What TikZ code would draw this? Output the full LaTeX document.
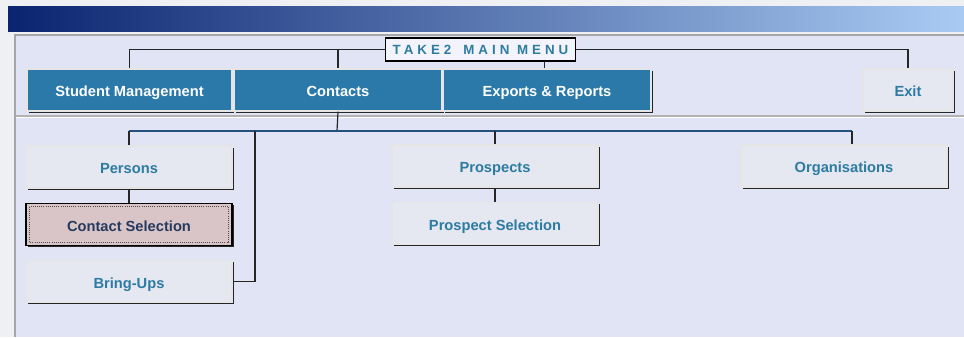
\documentclass[tikz,border=0pt]{standalone}
\usepackage{fontspec}
\setsansfont{Liberation Sans}
\newfontfamily\spacedfont{Liberation Sans}[LetterSpace=30]
\usetikzlibrary{positioning,shadows}
\definecolor{barleft}{HTML}{0B2470}
\definecolor{barmid}{HTML}{5474B2}
\definecolor{barright}{HTML}{A9CBF3}
\definecolor{outer}{HTML}{EFF0F4}
\definecolor{panel}{HTML}{E1E4F5}
\definecolor{btnblue}{HTML}{2A79A9}
\definecolor{btnlight}{HTML}{E5E7F1}
\definecolor{btntext}{HTML}{2D7BA1}
\definecolor{selfill}{HTML}{D9C5C7}
\definecolor{seltext}{HTML}{26395F}
\definecolor{linkblue}{HTML}{24507E}

\begin{document}
\begin{tikzpicture}[x=0.75pt,y=-0.75pt,
    font=\sffamily\bfseries\fontsize{11}{13}\selectfont,
    node distance=43pt,
    btn/.style={minimum width=154.5pt,minimum height=31.5pt,inner sep=0pt,
      text height=11pt,text depth=1pt,
      draw=white!80!gray,line width=0.8pt,
      general shadow={shadow xshift=1.3pt,shadow yshift=-1.3pt,fill=black!85}},
    topbtn/.style={btn,fill=btnblue,text=white},
    subbtn/.style={btn,fill=btnlight,text=btntext},
    selbtn/.style={btn,fill=selfill,text=seltext,draw=black,line width=1.2pt,
      path picture={\draw[densely dotted,black!70,line width=0.6pt]
        ([xshift=2.5pt,yshift=-2.5pt]path picture bounding box.north west) rectangle
        ([xshift=-2.5pt,yshift=2.5pt]path picture bounding box.south east);}},
    menutitle/.style={draw=black,line width=0.8pt,fill=white!60!panel,text=btntext,
      inner sep=0pt,minimum width=143pt,minimum height=17.25pt,
      text height=7.2pt,text depth=0pt,
      font=\spacedfont\bfseries\fontsize{10}{11}\selectfont},
    wire/.style={draw=black!85,line width=0.9pt}]
  \useasboundingbox (0,0) rectangle (964,337);
  \fill[outer] (0,0) rectangle (964,337);
  \shade[left color=barleft,middle color=barmid,right color=barright] (8,6) rectangle (964,31);
  \fill[panel] (14,34) rectangle (964,337);
  \draw[gray!70,line width=0.8pt] (15,337) |- (964,35);
  \draw[gray!60,line width=0.8pt] (16,116) -- (964,116);
  \draw[white,line width=0.8pt] (16,117.5) -- (964,117.5);

  \node[menutitle] (title) at (480.5,49.5) {TAKE2\hspace{9pt}MAIN MENU};
  \node[topbtn,minimum width=153.75pt] (sm) at (129.5,90) {Student Management};
  \node[topbtn,minimum width=156pt] (co) at (338,90) {Contacts};
  \node[topbtn,minimum width=156pt] (ex) at (547,90) {Exports \& Reports};
  \node[subbtn,minimum width=67.5pt] (exit) at (908,90) {Exit};

  \node[subbtn] (pe) at (129,167) {Persons};
  \node[selbtn,below of=pe] (cs) {Contact Selection};
  \node[subbtn,below of=cs] (bu) {Bring-Ups};
  \node[subbtn] (pr) at (495,166) {Prospects};
  \node[subbtn,below of=pr] (ps) {Prospect Selection};
  \node[subbtn] (org) at (844,166) {Organisations};

  \coordinate (hub) at (337,131);
  \coordinate (bend) at (255,131);

  \draw[wire] (sm.north) |- (title.west);
  \draw[wire] (co.north) -- (co.north |- title.west);
  \draw[wire] ([xshift=-2pt]ex.north) -- ([xshift=-2pt]ex.north |- title.south);
  \draw[wire] (title.east) -| (exit.north);
  \draw[wire] (co.south) -- (hub);
  \draw[wire,draw=linkblue] (pe.north |- hub) -- ([xshift=6pt]org.north |- hub);
  \draw[wire] (pe.north) -- (pe.north |- hub);
  \draw[wire] (pr.north) -- (pr.north |- hub);
  \draw[wire] ([xshift=6pt]org.north) -- ([xshift=6pt]org.north |- hub);
  \draw[wire] (pe.south) -- (cs.north);
  \draw[wire] (pr.south) -- (ps.north);
  \draw[wire] (bend) |- (bu.east);
\end{tikzpicture}
\end{document}
